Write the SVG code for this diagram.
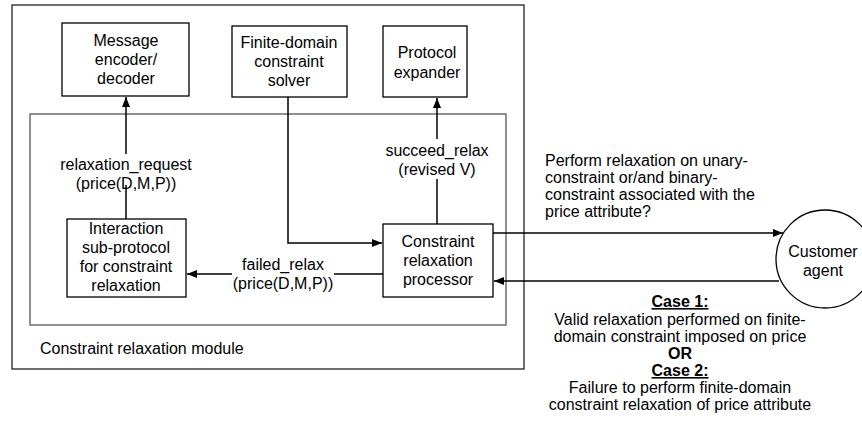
<svg xmlns="http://www.w3.org/2000/svg" width="862" height="432" viewBox="0 0 862 432">
<defs>
<marker id="ah" viewBox="0 0 10 8" refX="10" refY="4" markerWidth="10" markerHeight="8" markerUnits="userSpaceOnUse" orient="auto">
<path d="M0,0 L10,4 L0,8 Z" fill="#000"/>
</marker>
<style>
text{font-family:"Liberation Sans",Arial,sans-serif;font-size:16px;fill:#000}
.c{text-anchor:middle}
.b{font-weight:bold;text-decoration:underline}
.bo{font-weight:bold}
.box{fill:#fff;stroke:#000;stroke-width:1.3}
.frame{fill:none;stroke:#222;stroke-width:1.3}
.inner{fill:none;stroke:#555;stroke-width:1.3}
.ln{fill:none;stroke:#000;stroke-width:1.5}
.bg{fill:#fff;stroke:none}
</style>
</defs>
<rect fill="#fff" x="0" y="0" width="862" height="432"/>

<g id="module">
<rect class="frame" x="12" y="5" width="512" height="364"/>
<rect class="inner" x="30" y="114" width="476" height="211"/>
<text x="40" y="354">Constraint relaxation module</text>
</g>

<g id="connectors">
<line class="ln" x1="126" y1="219" x2="126" y2="97" marker-end="url(#ah)"/>
<line class="ln" x1="437" y1="224" x2="437" y2="98" marker-end="url(#ah)"/>
<polyline class="ln" points="288,97 288,243 382,243" marker-end="url(#ah)"/>
<line class="ln" x1="383" y1="274" x2="187" y2="274" marker-end="url(#ah)"/>
<line class="ln" x1="493" y1="233" x2="783" y2="233" marker-end="url(#ah)"/>
<line class="ln" x1="779" y1="281" x2="494" y2="281" marker-end="url(#ah)"/>
<rect class="bg" x="60" y="154" width="132" height="31"/>
<text class="c" x="126" y="170">relaxation_request</text>
<text class="c" x="126" y="189">(price(D,M,P))</text>
<rect class="bg" x="384" y="139" width="106" height="40"/>
<text class="c" x="437" y="156">succeed_relax</text>
<text class="c" x="437" y="175">(revised V)</text>
<rect class="bg" x="232" y="257" width="102" height="36"/>
<text class="c" x="283" y="270">failed_relax</text>
<text class="c" x="283" y="289">(price(D,M,P))</text>
</g>

<g id="message-encoder">
<rect class="box" x="62" y="23" width="127" height="73"/>
<text class="c" x="126" y="46">Message</text>
<text class="c" x="126" y="65">encoder/</text>
<text class="c" x="126" y="84">decoder</text>
</g>

<g id="fd-solver">
<rect class="box" x="232" y="26" width="115" height="71"/>
<text class="c" x="289" y="48">Finite-domain</text>
<text class="c" x="289" y="67">constraint</text>
<text class="c" x="289" y="86">solver</text>
</g>

<g id="protocol-expander">
<rect class="box" x="383" y="26" width="84" height="71"/>
<text class="c" x="427" y="58">Protocol</text>
<text class="c" x="427" y="78">expander</text>
</g>

<g id="interaction">
<rect class="box" x="67" y="219" width="119" height="78"/>
<text class="c" x="126" y="234">Interaction</text>
<text class="c" x="126" y="253">sub-protocol</text>
<text class="c" x="126" y="272">for constraint</text>
<text class="c" x="126" y="291">relaxation</text>
</g>

<g id="processor">
<rect class="box" x="383" y="224" width="110" height="73"/>
<text class="c" x="438" y="247">Constraint</text>
<text class="c" x="438" y="266">relaxation</text>
<text class="c" x="438" y="285">processor</text>
</g>

<g id="customer-agent">
<circle cx="825" cy="259" r="49" fill="#fff" stroke="#000" stroke-width="1.3"/>
<text class="c" x="823" y="257">Customer</text>
<text class="c" x="823" y="276">agent</text>
</g>

<g id="labels">
<text x="545" y="166">Perform relaxation on unary-</text>
<text x="545" y="183">constraint or/and binary-</text>
<text x="545" y="200">constraint associated with the</text>
<text x="545" y="217">price attribute?</text>
<text class="c b" x="680" y="307">Case 1:</text>
<text class="c" x="680" y="325">Valid relaxation performed on finite-</text>
<text class="c" x="680" y="342">domain constraint imposed on price</text>
<text class="c bo" x="680" y="359">OR</text>
<text class="c b" x="680" y="376">Case 2:</text>
<text class="c" x="680" y="393">Failure to perform finite-domain</text>
<text class="c" x="680" y="410">constraint relaxation of price attribute</text>
</g>
</svg>
